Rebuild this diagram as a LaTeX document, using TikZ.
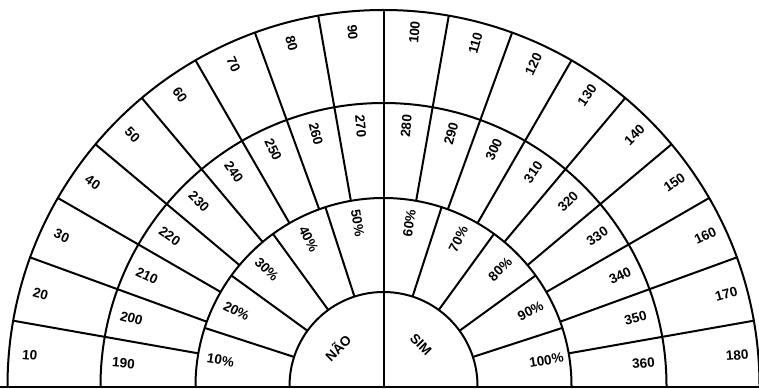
\documentclass[tikz,border=0pt]{standalone}
\usepackage{fontspec}
\setmainfont{Liberation Sans}
\begin{document}
\begin{tikzpicture}[x=1pt,y=1pt,line width=2pt,
  lbl/.style={font=\bfseries\fontsize{13.5}{15}\selectfont,inner sep=0pt}]
\useasboundingbox (0,0) rectangle (759,388);
\fill[white] (0,0) rectangle (759,388);
% baseline
\draw (0,1.5) -- (759,1.5);
\begin{scope}[shift={(383.5,2)}]
\coordinate (C) at (0,0);
\def\rA{94}\def\rB{188}\def\rC{283}\def\rD{376}
% arcs
\foreach \r in {\rA,\rB,\rC,\rD}
  \draw (\r,0) arc[start angle=0,end angle=180,radius=\r];
% centre line
\draw (C) -- (90:\rD);
% radial lines every 10 degrees (outer two rings)
\foreach \a in {10,20,...,170}
  \draw (\a:\rB) -- (\a:\rD);
% radial lines every 18 degrees (percent ring)
\foreach \a in {18,36,...,162}
  \draw (\a:\rA) -- (\a:\rB);
% outer and middle labels
\foreach \i in {1,...,18}{
  \pgfmathsetmacro\ang{185-10*\i}
  \pgfmathsetmacro\rot{\ang>90 ? \ang-180 : \ang}
  \pgfmathtruncatemacro\vo{10*\i}
  \pgfmathtruncatemacro\vm{180+10*\i}
  \node[lbl,rotate=\rot] (o\i) at (\ang:355) {\vo};
  \node[lbl,rotate=\rot] (m\i) at (\ang:261) {\vm};
}
% percent labels
\foreach \i in {1,...,10}{
  \pgfmathsetmacro\ang{189-18*\i}
  \pgfmathsetmacro\rot{\ang>90 ? \ang-180 : \ang}
  \pgfmathtruncatemacro\vp{10*\i}
  \node[lbl,rotate=\rot] (p\i) at (\ang:165) {\vp\%};
}
% inner labels
\node[lbl,rotate=45] (nao) at (140:60) {NÃO};
\node[lbl,rotate=-45] (sim) at (48:56) {SIM};
\end{scope}
\end{tikzpicture}
\end{document}
